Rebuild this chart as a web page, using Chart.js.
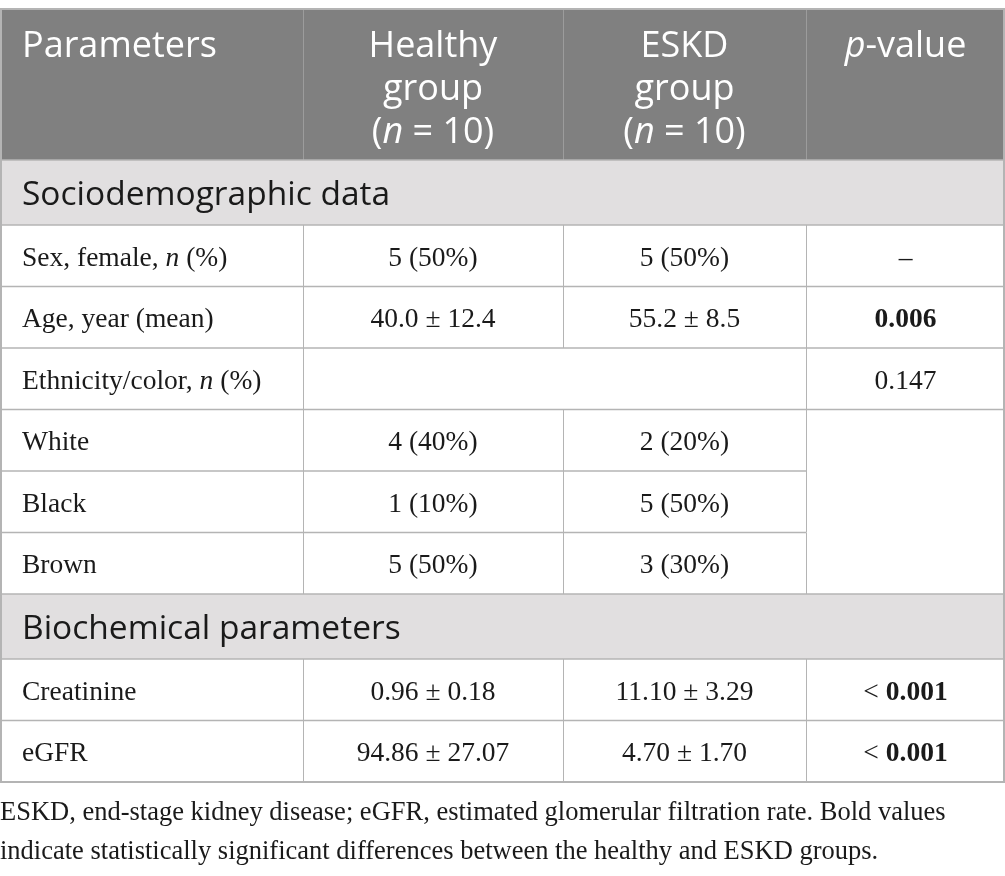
<!DOCTYPE html>
<html>
<head>
<meta charset="utf-8">
<script src="https://cdn.jsdelivr.net/npm/chart.js@4.4.1/dist/chart.umd.min.js"></script>
<style>
  html,body{margin:0;padding:0;background:#fff;}
  #wrap{width:1005px;height:876px;}
</style>
</head>
<body>
<div id="wrap"><canvas id="tbl" width="1005" height="876"></canvas></div>
<script>
// table content (*x* = italic, **x** = bold, | = line break)
const headers = ['Parameters', 'Healthy|group|(*n* = 10)', 'ESKD|group|(*n* = 10)', '*p*-value'];
const sections = ['Sociodemographic data', 'Biochemical parameters'];
const sectionStart = [0, 6];
const params = ['Sex, female, *n* (%)', 'Age, year (mean)', 'Ethnicity/color, *n* (%)', 'White', 'Black', 'Brown', 'Creatinine', 'eGFR'];
const healthy = ['5 (50%)', '40.0 ± 12.4', '', '4 (40%)', '1 (10%)', '5 (50%)', '0.96 ± 0.18', '94.86 ± 27.07'];
const eskd = ['5 (50%)', '55.2 ± 8.5', '', '2 (20%)', '5 (50%)', '3 (30%)', '11.10 ± 3.29', '4.70 ± 1.70'];
const pValues = ['–', '**0.006**', '0.147', '', '', '', '< **0.001**', '< **0.001**'];
const footnote = [
  'ESKD, end-stage kidney disease; eGFR, estimated glomerular filtration rate. Bold values',
  'indicate statistically significant differences between the healthy and ESKD groups.'
];

// layout, in axis units
const colEdges = [0, 303, 563, 806, 1005];
const headTop = 9, headBottom = 160, sectionH = 65, rowH = 61.5;
const padL = 22;
const headFont = '"Open Sans", sans-serif';
const bodyFont = '"Liberation Serif", "DejaVu Serif", serif';

// build row bands
let bands = [];
let y = headBottom;
params.forEach((p, i) => {
  const s = sectionStart.indexOf(i);
  if (s >= 0) { bands.push({kind:'section', idx:s, y0:y, y1:y + sectionH}); y += sectionH; }
  bands.push({kind:'row', idx:i, y0:y, y1:y + rowH}); y += rowH;
});
const tableBottom = y;

function parseRich(str){
  return str.split(/(\*\*[^*]+\*\*|\*[^*]+\*)/).filter(s => s.length).map(s => {
    if (s.startsWith('**')) return {t:s.slice(2,-2), w:'bold', st:'normal'};
    if (s.startsWith('*')) return {t:s.slice(1,-1), w:'normal', st:'italic'};
    return {t:s, w:'normal', st:'normal'};
  });
}

function drawRich(ctx, str, x, yy, align, size, family, color){
  const segs = parseRich(str);
  let total = 0;
  segs.forEach(s => {
    ctx.font = s.st + ' ' + s.w + ' ' + size + 'px ' + family;
    s.width = ctx.measureText(s.t).width;
    total += s.width;
  });
  let cx = align === 'center' ? x - total / 2 : x;
  ctx.fillStyle = color;
  ctx.textBaseline = 'middle';
  ctx.textAlign = 'left';
  segs.forEach(s => {
    ctx.font = s.st + ' ' + s.w + ' ' + size + 'px ' + family;
    ctx.fillText(s.t, cx, yy);
    cx += s.width;
  });
}

const tablePlugin = {
  id: 'tablePlugin',
  afterDraw(chart){
    const ctx = chart.ctx;
    const X = v => chart.scales.x.getPixelForValue(v);
    const Y = v => chart.scales.y.getPixelForValue(v);
    ctx.save();

    // header band
    ctx.fillStyle = '#808080';
    ctx.fillRect(X(0), Y(headTop), X(1005) - X(0), Y(headBottom) - Y(headTop));
    ctx.strokeStyle = '#9c9c9c';
    ctx.lineWidth = 1;
    for (let c = 1; c < 4; c++) {
      ctx.beginPath();
      ctx.moveTo(X(colEdges[c]) + 0.5, Y(headTop));
      ctx.lineTo(X(colEdges[c]) + 0.5, Y(headBottom));
      ctx.stroke();
    }
    headers.forEach((h, c) => {
      const lines = h.split('|');
      lines.forEach((ln, k) => {
        const yy = Y(headTop + 38 + k * 43);
        if (c === 0) drawRich(ctx, ln, X(colEdges[0] + padL), yy, 'left', 36, headFont, '#fff');
        else drawRich(ctx, ln, X((colEdges[c] + colEdges[c + 1]) / 2), yy, 'center', 36, headFont, '#fff');
      });
    });

    // bands
    ctx.strokeStyle = '#b4b4b4';
    bands.forEach(b => {
      const top = Y(b.y0), bot = Y(b.y1), mid = Y((b.y0 + b.y1) / 2 + 3);
      if (b.kind === 'section') {
        ctx.fillStyle = '#e1dfe0';
        ctx.fillRect(X(0), top, X(1005) - X(0), bot - top);
        drawRich(ctx, sections[b.idx], X(padL), mid, 'left', 33.5, headFont, '#1a1a1a');
      } else {
        const i = b.idx;
        drawRich(ctx, params[i], X(padL), mid, 'left', 27.5, bodyFont, '#1a1a1a');
        const cells = [healthy[i], eskd[i], pValues[i]];
        cells.forEach((t, k) => {
          if (!t) return;
          drawRich(ctx, t, X((colEdges[k + 1] + colEdges[k + 2]) / 2), mid, 'center', 27.5, bodyFont, '#1a1a1a');
        });
        // vertical separators
        for (let c = 1; c < 4; c++) {
          if (i === 2 && c === 2) continue; // merged healthy/eskd cell
          ctx.beginPath();
          ctx.moveTo(X(colEdges[c]) + 0.5, top);
          ctx.lineTo(X(colEdges[c]) + 0.5, bot);
          ctx.stroke();
        }
      }
      // horizontal line at top of band
      ctx.lineWidth = 1.5;
      ctx.beginPath();
      if (b.kind === 'row' && (b.idx === 4 || b.idx === 5)) {
        ctx.moveTo(X(0), top); ctx.lineTo(X(colEdges[3]), top);
      } else {
        ctx.moveTo(X(0), top); ctx.lineTo(X(1005), top);
      }
      ctx.stroke();
      ctx.lineWidth = 1;
    });

    // outer border
    ctx.lineWidth = 2;
    ctx.strokeStyle = '#b4b4b4';
    ctx.strokeRect(X(0) + 1, Y(headTop), X(1005) - X(0) - 2, Y(tableBottom) - Y(headTop));

    // footnote
    footnote.forEach((ln, k) => {
      drawRich(ctx, ln, X(0), Y(813 + k * 39), 'left', 26.5, bodyFont, '#1a1a1a');
    });
    ctx.restore();
  }
};

new Chart(document.getElementById('tbl'), {
  type: 'scatter',
  data: {datasets: [{data: []}]},
  options: {
    responsive: false,
    animation: false,
    layout: {padding: 0},
    plugins: {legend: {display: false}, tooltip: {enabled: false}},
    scales: {
      x: {type: 'linear', min: 0, max: 1005, display: false},
      y: {type: 'linear', min: 0, max: 876, reverse: true, display: false}
    }
  },
  plugins: [tablePlugin]
});
</script>
</body>
</html>
